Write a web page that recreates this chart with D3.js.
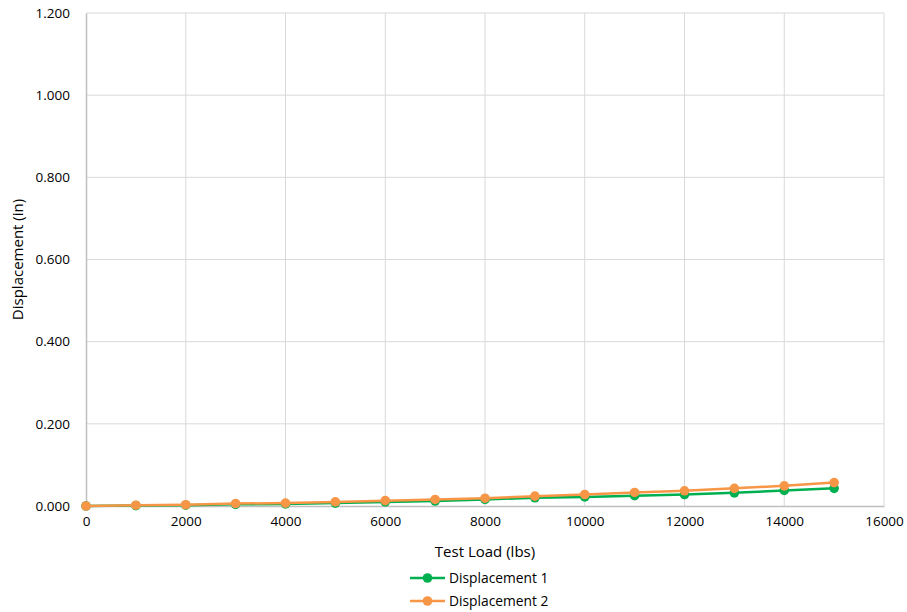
<!DOCTYPE html>
<html>
<head>
<meta charset="utf-8">
<script src="https://cdn.jsdelivr.net/npm/d3@7"></script>
<style>
  body { margin: 0; background: #fff; }
  svg text { font-family: "Open Sans", "Liberation Sans", sans-serif; fill: #000; }
</style>
</head>
<body>
<svg id="chart" width="907" height="612"></svg>
<script>
// Load test readings
const loads = [0, 1000, 2000, 3000, 4000, 5000, 6000, 7000, 8000, 9000, 10000, 11000, 12000, 13000, 14000, 15000];
const displacement1 = [0, 0.001, 0.002, 0.004, 0.005, 0.007, 0.010, 0.012, 0.016, 0.020, 0.022, 0.025, 0.028, 0.032, 0.038, 0.043];
const displacement2 = [0, 0.002, 0.003, 0.006, 0.007, 0.010, 0.013, 0.016, 0.019, 0.024, 0.028, 0.033, 0.037, 0.043, 0.049, 0.057];
const seriesNames = ["Displacement 1", "Displacement 2"];
const seriesColors = ["#00B050", "#F79646"];
const xTicks = [0, 2000, 4000, 6000, 8000, 10000, 12000, 14000, 16000];
const yTicks = [0, 0.2, 0.4, 0.6, 0.8, 1.0, 1.2];

const svg = d3.select("#chart");
const m = { left: 86, right: 884, top: 13, bottom: 506 };

const x = d3.scaleLinear().domain([0, 16000]).range([m.left, m.right]);
const y = d3.scaleLinear().domain([0, 1.2]).range([m.bottom, m.top]);

// Gridlines
svg.append("g").selectAll("line.v").data(xTicks.slice(1)).join("line")
  .attr("x1", d => x(d)).attr("x2", d => x(d))
  .attr("y1", m.top).attr("y2", m.bottom)
  .attr("stroke", "#d9d9d9").attr("stroke-width", 1);
svg.append("g").selectAll("line.h").data(yTicks.slice(1)).join("line")
  .attr("x1", m.left).attr("x2", m.right)
  .attr("y1", d => y(d)).attr("y2", d => y(d))
  .attr("stroke", "#d9d9d9").attr("stroke-width", 1);

// Axes
const xAxis = svg.append("g").attr("transform", `translate(0,${m.bottom})`)
  .call(d3.axisBottom(x).tickValues(xTicks).tickSize(0).tickPadding(10).tickFormat(d3.format("d")));
xAxis.select(".domain").attr("stroke", "#bfbfbf").attr("stroke-width", 1.5);
xAxis.selectAll("text").style("font-size", "13.5px");

const yAxis = svg.append("g").attr("transform", `translate(${m.left},0)`)
  .call(d3.axisLeft(y).tickValues(yTicks).tickSize(0).tickPadding(16).tickFormat(d3.format(".3f")));
yAxis.select(".domain").attr("stroke", "#bfbfbf").attr("stroke-width", 1.5);
yAxis.selectAll("text").style("font-size", "13.5px");

// Axis titles
svg.append("text").attr("x", (m.left + m.right) / 2).attr("y", 557)
  .attr("text-anchor", "middle").style("font-size", "15px").text("Test Load (lbs)");
svg.append("text").attr("transform", `translate(23,${(m.top + m.bottom) / 2}) rotate(-90)`)
  .attr("text-anchor", "middle").style("font-size", "15px").text("Displacement (in)");

// Series
const series = [displacement1, displacement2];
const line = d3.line().x(d => x(d[0])).y(d => y(d[1]));
series.forEach((vals, i) => {
  const pts = loads.map((l, j) => [l, vals[j]]);
  const g = svg.append("g");
  g.append("path").datum(pts).attr("d", line)
    .attr("fill", "none").attr("stroke", seriesColors[i]).attr("stroke-width", 2.5);
  g.selectAll("circle").data(pts).join("circle")
    .attr("cx", d => x(d[0])).attr("cy", d => y(d[1])).attr("r", 4.8)
    .attr("fill", seriesColors[i]);
});

// Legend
const legend = svg.append("g");
seriesNames.forEach((name, i) => {
  const ly = 578 + i * 23;
  legend.append("line").attr("x1", 410).attr("x2", 445).attr("y1", ly).attr("y2", ly)
    .attr("stroke", seriesColors[i]).attr("stroke-width", 2.5);
  legend.append("circle").attr("cx", 427.5).attr("cy", ly).attr("r", 4.8).attr("fill", seriesColors[i]);
  legend.append("text").attr("x", 449).attr("y", ly + 5).style("font-size", "13.8px").text(name);
});
</script>
</body>
</html>
